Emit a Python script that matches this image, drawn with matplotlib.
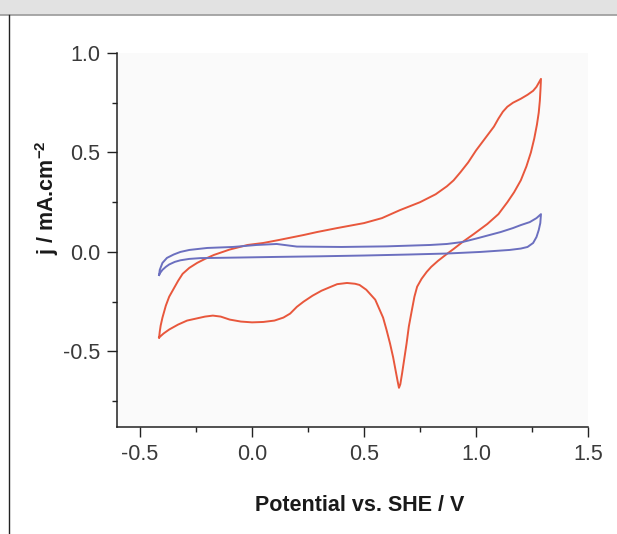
import matplotlib
matplotlib.use("Agg")
import matplotlib.pyplot as plt
from matplotlib.patches import Rectangle
from matplotlib.lines import Line2D
from matplotlib.ticker import MultipleLocator

plt.rcParams['font.family'] = ['Liberation Sans', 'DejaVu Sans']
plt.rcParams['mathtext.fontset'] = 'custom'
plt.rcParams['mathtext.bf'] = 'Liberation Sans:bold'
plt.rcParams['mathtext.rm'] = 'Liberation Sans'

# red CV: anodic sweep then cathodic sweep (potential V, current mA/cm2)
red_anodic_x = [-0.415, -0.412, -0.408, -0.40, -0.385, -0.37, -0.35, -0.33, -0.31, -0.28,
                -0.245, -0.21, -0.17, -0.10, -0.02, 0.05, 0.12, 0.23, 0.29, 0.38, 0.50, 0.58,
                0.66, 0.75, 0.82, 0.87, 0.90, 0.93, 0.965, 1.00, 1.04, 1.08, 1.10, 1.12, 1.14,
                1.165, 1.20, 1.23, 1.255, 1.27, 1.28, 1.29]
red_anodic_y = [-0.43, -0.40, -0.37, -0.33, -0.27, -0.225, -0.185, -0.145, -0.11, -0.08,
                -0.055, -0.035, -0.015, 0.012, 0.035, 0.045, 0.06, 0.085, 0.10, 0.12, 0.145, 0.17,
                0.21, 0.25, 0.29, 0.33, 0.36, 0.40, 0.45, 0.51, 0.57, 0.63, 0.67, 0.705, 0.73,
                0.75, 0.77, 0.79, 0.81, 0.83, 0.85, 0.87]
red_cathodic_x = [1.29, 1.288, 1.285, 1.28, 1.272, 1.26, 1.245, 1.225, 1.20, 1.17, 1.14, 1.10,
                  1.05, 0.99, 0.94, 0.90, 0.87, 0.83, 0.80, 0.78, 0.757, 0.737, 0.725, 0.714,
                  0.70, 0.69, 0.68, 0.67, 0.662, 0.656, 0.65, 0.64, 0.63, 0.616, 0.60, 0.585,
                  0.55, 0.51, 0.48, 0.46, 0.424, 0.38, 0.35, 0.31, 0.27, 0.23, 0.20, 0.17, 0.14,
                  0.10, 0.05, 0.0, -0.05, -0.10, -0.14, -0.175, -0.21, -0.25, -0.29, -0.33,
                  -0.37, -0.395, -0.415]
red_cathodic_y = [0.87, 0.82, 0.76, 0.70, 0.64, 0.57, 0.50, 0.43, 0.36, 0.30, 0.25, 0.19,
                  0.14, 0.09, 0.05, 0.015, -0.01, -0.045, -0.075, -0.10, -0.135, -0.175, -0.225,
                  -0.29, -0.375, -0.46, -0.535, -0.61, -0.665, -0.683, -0.65, -0.59, -0.53,
                  -0.46, -0.39, -0.33, -0.24, -0.19, -0.166, -0.16, -0.156, -0.162, -0.176,
                  -0.195, -0.22, -0.25, -0.276, -0.31, -0.33, -0.345, -0.352, -0.354, -0.35,
                  -0.34, -0.325, -0.32, -0.325, -0.335, -0.345, -0.365, -0.39, -0.41, -0.43]

# blue CV (blank electrolyte)
blue_lower_x = [-0.415, -0.41, -0.40, -0.385, -0.37, -0.345, -0.32, -0.28, -0.23, -0.05, 0.11,
                0.30, 0.50, 0.70, 0.87, 1.02, 1.15, 1.20, 1.23, 1.255, 1.27, 1.28, 1.287, 1.29]
blue_lower_y = [-0.116, -0.105, -0.09, -0.075, -0.063, -0.05, -0.042, -0.035, -0.031, -0.028,
                -0.025, -0.022, -0.018, -0.013, -0.008, 0.0, 0.01, 0.017, 0.025, 0.045, 0.075,
                0.11, 0.145, 0.19]
blue_upper_x = [1.29, 1.27, 1.24, 1.20, 1.165, 1.11, 1.06, 1.00, 0.94, 0.87, 0.795, 0.60, 0.40,
                0.20, 0.11, 0.02, -0.085, -0.20, -0.28, -0.32, -0.35, -0.38, -0.40, -0.412,
                -0.415]
blue_upper_y = [0.19, 0.17, 0.15, 0.135, 0.12, 0.10, 0.085, 0.067, 0.05, 0.04, 0.035, 0.028,
                0.025, 0.027, 0.04, 0.035, 0.025, 0.02, 0.01, 0.0, -0.013, -0.03, -0.055,
                -0.09, -0.116]

x_ticks = [-0.5, 0.0, 0.5, 1.0, 1.5]
y_ticks = [-0.5, 0.0, 0.5, 1.0]

fig = plt.figure(figsize=(6.17, 5.34), dpi=100)
ax = fig.add_axes([117 / 617, 1 - 427 / 534, 471 / 617, 374 / 534])
ax.set_facecolor('#fafafa')

ax.plot(red_anodic_x + red_cathodic_x[1:], red_anodic_y + red_cathodic_y[1:],
        color='#e8573c', lw=1.4, solid_joinstyle='round')
ax.plot(blue_lower_x + blue_upper_x[1:], blue_lower_y + blue_upper_y[1:],
        color='#6b6fbf', lw=1.4, solid_joinstyle='round')

ax.set_xlim(-0.603, 1.5)
ax.set_ylim(-0.88, 1.0)
ax.set_xticks(x_ticks)
ax.set_xticklabels([f"{v:.1f}" for v in x_ticks])
ax.set_yticks(y_ticks)
ax.set_yticklabels([f"{v:.1f}" for v in y_ticks])
ax.xaxis.set_minor_locator(MultipleLocator(0.25))
ax.yaxis.set_minor_locator(MultipleLocator(0.25))

for s in ['top', 'right']:
    ax.spines[s].set_visible(False)
for s in ['left', 'bottom']:
    ax.spines[s].set_linewidth(1.1)
    ax.spines[s].set_color('#222222')

ax.tick_params(which='major', length=7.2, width=1.0, color='#222222',
               labelsize=15.5, labelcolor='#3a3a3a', pad=5)
ax.tick_params(which='minor', length=3.6, width=1.0, color='#222222')

ax.set_xlabel('Potential vs. SHE / V', fontsize=15.5, fontweight='bold', color='#1a1a1a')
ax.set_ylabel(r'j / mA.cm$^{\mathbf{-2}}$', fontsize=15.5, fontweight='bold', color='#1a1a1a')
ax.xaxis.set_label_coords((360 - 117) / 471, -(495 - 427) / 374)
ax.yaxis.set_label_coords(-(117 - 61) / 471, (427 - 198) / 374)

# page decoration: header band and frame lines
fig.add_artist(Rectangle((0, 1 - 14.5 / 534), 1, 14.5 / 534, transform=fig.transFigure,
                         facecolor='#e2e2e2', edgecolor='none'))
fig.add_artist(Line2D([0, 1], [1 - 14.5 / 534] * 2, transform=fig.transFigure,
                      color='#9a9a9a', lw=1.2))
fig.add_artist(Line2D([9 / 617] * 2, [0, 1 - 14.5 / 534], transform=fig.transFigure,
                      color='#222222', lw=1.0))

fig.savefig('out.png', dpi=100)
